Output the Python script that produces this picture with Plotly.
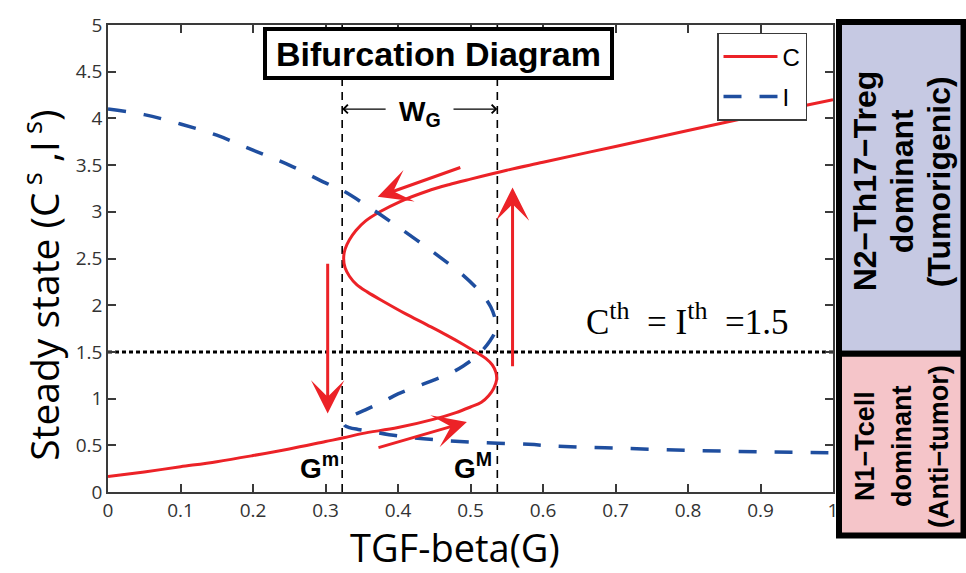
import plotly.graph_objects as go

# ---- data -----------------------------------------------------------------
# C branch of the S-shaped steady-state curve, traced in order along the curve
c_g = [0.0, 0.05, 0.10, 0.15, 0.20, 0.25, 0.30, 0.325, 0.35, 0.40, 0.45, 0.48,
       0.50, 0.515, 0.525, 0.532, 0.536, 0.535, 0.53, 0.521, 0.509, 0.49, 0.467,
       0.44, 0.41, 0.38, 0.358, 0.343, 0.333, 0.327, 0.325, 0.327, 0.333, 0.342,
       0.355, 0.375, 0.403, 0.44, 0.47, 0.50, 0.55, 0.60, 0.70, 0.80, 0.90, 1.0]
c_s = [0.165, 0.215, 0.27, 0.325, 0.39, 0.46, 0.54, 0.58, 0.625, 0.69, 0.78, 0.85,
       0.91, 0.96, 1.03, 1.11, 1.20, 1.28, 1.36, 1.43, 1.49, 1.58, 1.68,
       1.79, 1.91, 2.04, 2.14, 2.22, 2.31, 2.40, 2.50, 2.60, 2.70, 2.80,
       2.90, 3.00, 3.11, 3.22, 3.29, 3.35, 3.445, 3.53, 3.70, 3.87, 4.04, 4.20]

# I branch, traced in order along the curve
i_g = [0.0, 0.05, 0.10, 0.15, 0.20, 0.25, 0.30, 0.323, 0.36, 0.40, 0.45, 0.49,
       0.51, 0.52, 0.528, 0.533, 0.535, 0.533, 0.527, 0.518, 0.508, 0.49, 0.472,
       0.45, 0.426, 0.40, 0.38, 0.355, 0.335, 0.327, 0.325, 0.327, 0.333, 0.345,
       0.36, 0.40, 0.45, 0.50, 0.58, 0.62, 0.70, 0.80, 0.90, 1.0]
i_s = [4.10, 4.04, 3.94, 3.82, 3.66, 3.50, 3.31, 3.23, 3.05, 2.84, 2.56, 2.32,
       2.17, 2.08, 1.98, 1.88, 1.78, 1.70, 1.62, 1.53, 1.45, 1.35, 1.27,
       1.20, 1.13, 1.05, 0.97, 0.88, 0.81, 0.77, 0.74, 0.71, 0.69, 0.67,
       0.65, 0.60, 0.56, 0.535, 0.51, 0.49, 0.47, 0.446, 0.43, 0.42]

g_min = 0.323      # lower saddle-node point G^m
g_max = 0.537      # upper saddle-node point G^M
threshold = 1.5    # C^th = I^th

# flow arrows: (tail G, tail value, head G, head value)
flow_arrows = [
    (0.488, 3.48, 0.372, 3.16),
    (0.558, 1.33, 0.558, 3.26),
    (0.303, 2.46, 0.303, 0.84),
    (0.371, 0.47, 0.495, 0.75),
]

x_tickvals = [0, 0.1, 0.2, 0.3, 0.4, 0.5, 0.6, 0.7, 0.8, 0.9, 1]
x_ticktext = ["0", "0.1", "0.2", "0.3", "0.4", "0.5", "0.6", "0.7", "0.8", "0.9", "1"]
y_tickvals = [0, 0.5, 1, 1.5, 2, 2.5, 3, 3.5, 4, 4.5, 5]
y_ticktext = ["0", "0.5", "1", "1.5", "2", "2.5", "3", "3.5", "4", "4.5", "5"]

tumor_lines = ["N2\u2212Th17\u2212Treg", "dominant", "(Tumorigenic)"]
anti_lines = ["N1\u2212Tcell", "dominant", "(Anti\u2212tumor)"]

# ---- layout geometry (pixels) -----------------------------------------------
W, H = 966, 573
L, R, T, B = 108, 833, 14, 492


def px_x(p):
    return (p - L) / (R - L)


def px_y(p):
    return (B - p) / (B - T)


RED = "#EC2227"
BLUE = "#1F4E9F"
AX = "#3a3a3a"

fig = go.Figure()

fig.add_trace(go.Scatter(
    x=c_g, y=c_s, mode="lines", name="C", legendgroup="c",
    line=dict(color=RED, width=3, shape="spline", smoothing=1.0),
))
fig.add_trace(go.Scatter(
    x=i_g, y=i_s, mode="lines", name="I", legendgroup="i",
    line=dict(color=BLUE, width=3.5, dash="18px,18px", shape="spline", smoothing=1.0),
))

shapes = []
# saddle-node boundaries
for g in (g_min, g_max):
    shapes.append(dict(type="line", xref="x", yref="y", x0=g, x1=g, y0=0, y1=5,
                       line=dict(color="black", width=1.6, dash="8px,6px"), layer="below"))
# threshold line
shapes.append(dict(type="line", xref="x", yref="y", x0=0, x1=1, y0=threshold, y1=threshold,
                   line=dict(color="black", width=3, dash="4px,3px"), layer="below"))
# side panels
shapes.append(dict(type="rect", xref="paper", yref="paper",
                   x0=px_x(839), x1=px_x(963.5), y0=px_y(350.5), y1=px_y(11),
                   fillcolor="#C6C9E3", line=dict(color="black", width=6), layer="above"))
shapes.append(dict(type="rect", xref="paper", yref="paper",
                   x0=px_x(839), x1=px_x(963.5), y0=px_y(536.5), y1=px_y(350.5),
                   fillcolor="#F5C5C9", line=dict(color="black", width=6), layer="above"))

ann = []
# title box
ann.append(dict(xref="paper", yref="paper", x=px_x(438), y=px_y(43),
                text="<b>Bifurcation Diagram</b>", showarrow=False,
                font=dict(family="Liberation Sans, Arial", size=34, color="black"),
                bgcolor="white", bordercolor="black", borderwidth=4, borderpad=0,
                width=343, height=45, xanchor="center", yanchor="middle"))

# flow arrows
for tg, ts, hg, hs in flow_arrows:
    ann.append(dict(xref="x", yref="y", axref="x", ayref="y", x=hg, y=hs, ax=tg, ay=ts,
                    text="", showarrow=True, arrowhead=3, arrowsize=1.85, arrowwidth=3,
                    arrowcolor=RED, standoff=0, startstandoff=0))

# width of the bistable window
wy = 4.1
ann.append(dict(xref="x", yref="y", axref="x", ayref="y", x=g_min, y=wy, ax=0.385, ay=wy,
                text="", showarrow=True, arrowhead=4, arrowsize=1.4, arrowwidth=1.2,
                arrowcolor="black", standoff=0))
ann.append(dict(xref="x", yref="y", axref="x", ayref="y", x=g_max, y=wy, ax=0.4745, ay=wy,
                text="", showarrow=True, arrowhead=4, arrowsize=1.4, arrowwidth=1.2,
                arrowcolor="black", standoff=0))
ann.append(dict(xref="x", yref="y", x=(g_min + g_max) / 2, y=wy - 0.05,
                text="<b>W<sub>G</sub></b>", showarrow=False,
                font=dict(family="Liberation Sans, Arial", size=28, color="black"),
                xanchor="center", yanchor="middle"))

# saddle-node labels
ann.append(dict(xref="x", yref="y", x=g_min - 0.002, y=0.06, text="<b>G<sup>m</sup></b>",
                showarrow=False, xanchor="right", yanchor="bottom",
                font=dict(family="Liberation Sans, Arial", size=28, color="black")))
ann.append(dict(xref="x", yref="y", x=g_max - 0.004, y=0.06, text="<b>G<sup>M</sup></b>",
                showarrow=False, xanchor="right", yanchor="bottom",
                font=dict(family="Liberation Sans, Arial", size=28, color="black")))

# threshold label
sup = "<sup><span style='font-size:26px'>th</span></sup>"
ann.append(dict(xref="x", yref="y", x=0.657, y=threshold + 0.08,
                text=f"C{sup}  = I{sup}  =1.5", showarrow=False,
                xanchor="left", yanchor="bottom",
                font=dict(family="Liberation Serif, Times New Roman", size=35, color="black")))

# axis titles
ann.append(dict(xref="paper", yref="paper", x=px_x(455), y=px_y(548),
                text="TGF-beta(G)", showarrow=False, xanchor="center", yanchor="middle",
                font=dict(family="Open Sans", size=38, color="black")))
ann.append(dict(xref="paper", yref="paper", x=px_x(41), y=px_y(281),
                text="Steady state (C<sup> s</sup> ,I<sup> s</sup>)", showarrow=False,
                textangle=-90, xanchor="center", yanchor="middle",
                font=dict(family="Open Sans", size=39, color="black")))

# side panel labels (rotated)
cols = [865, 902, 939]
for txt, cx in zip(tumor_lines, cols):
    ann.append(dict(xref="paper", yref="paper", x=px_x(cx), y=px_y(174), text=f"<b>{txt}</b>",
                    showarrow=False, textangle=-90, xanchor="center", yanchor="middle",
                    font=dict(family="Liberation Sans, Arial", size=32, color="black")))
for txt, cx in zip(anti_lines, cols):
    ann.append(dict(xref="paper", yref="paper", x=px_x(cx), y=px_y(445), text=f"<b>{txt}</b>",
                    showarrow=False, textangle=-90, xanchor="center", yanchor="middle",
                    font=dict(family="Liberation Sans, Arial", size=27, color="black")))

tick_font = dict(family="Open Sans", size=19, color="#333333")
fig.update_layout(
    width=W, height=H,
    margin=dict(l=L, r=W - R, t=T, b=H - B, pad=0),
    paper_bgcolor="white", plot_bgcolor="white",
    shapes=shapes, annotations=ann,
    xaxis=dict(range=[0, 1], tickvals=x_tickvals, ticktext=x_ticktext,
               showgrid=False, zeroline=False, showline=True, linecolor=AX, linewidth=1.6,
               mirror="ticks", ticks="inside", ticklen=8, tickwidth=1.6, tickcolor=AX,
               tickfont=tick_font),
    yaxis=dict(range=[0, 5], tickvals=y_tickvals, ticktext=y_ticktext,
               showgrid=False, zeroline=False, showline=True, linecolor=AX, linewidth=1.6,
               mirror="ticks", ticks="inside", ticklen=8, tickwidth=1.6, tickcolor=AX,
               tickfont=tick_font),
    legend=dict(x=px_x(717), y=px_y(22), xanchor="left", yanchor="top",
                bgcolor="white", bordercolor=AX, borderwidth=1.5,
                font=dict(family="Liberation Sans, Arial", size=24, color="black"),
                traceorder="grouped", tracegroupgap=6, itemwidth=54),
    showlegend=True,
)

fig.write_html("out.html")
